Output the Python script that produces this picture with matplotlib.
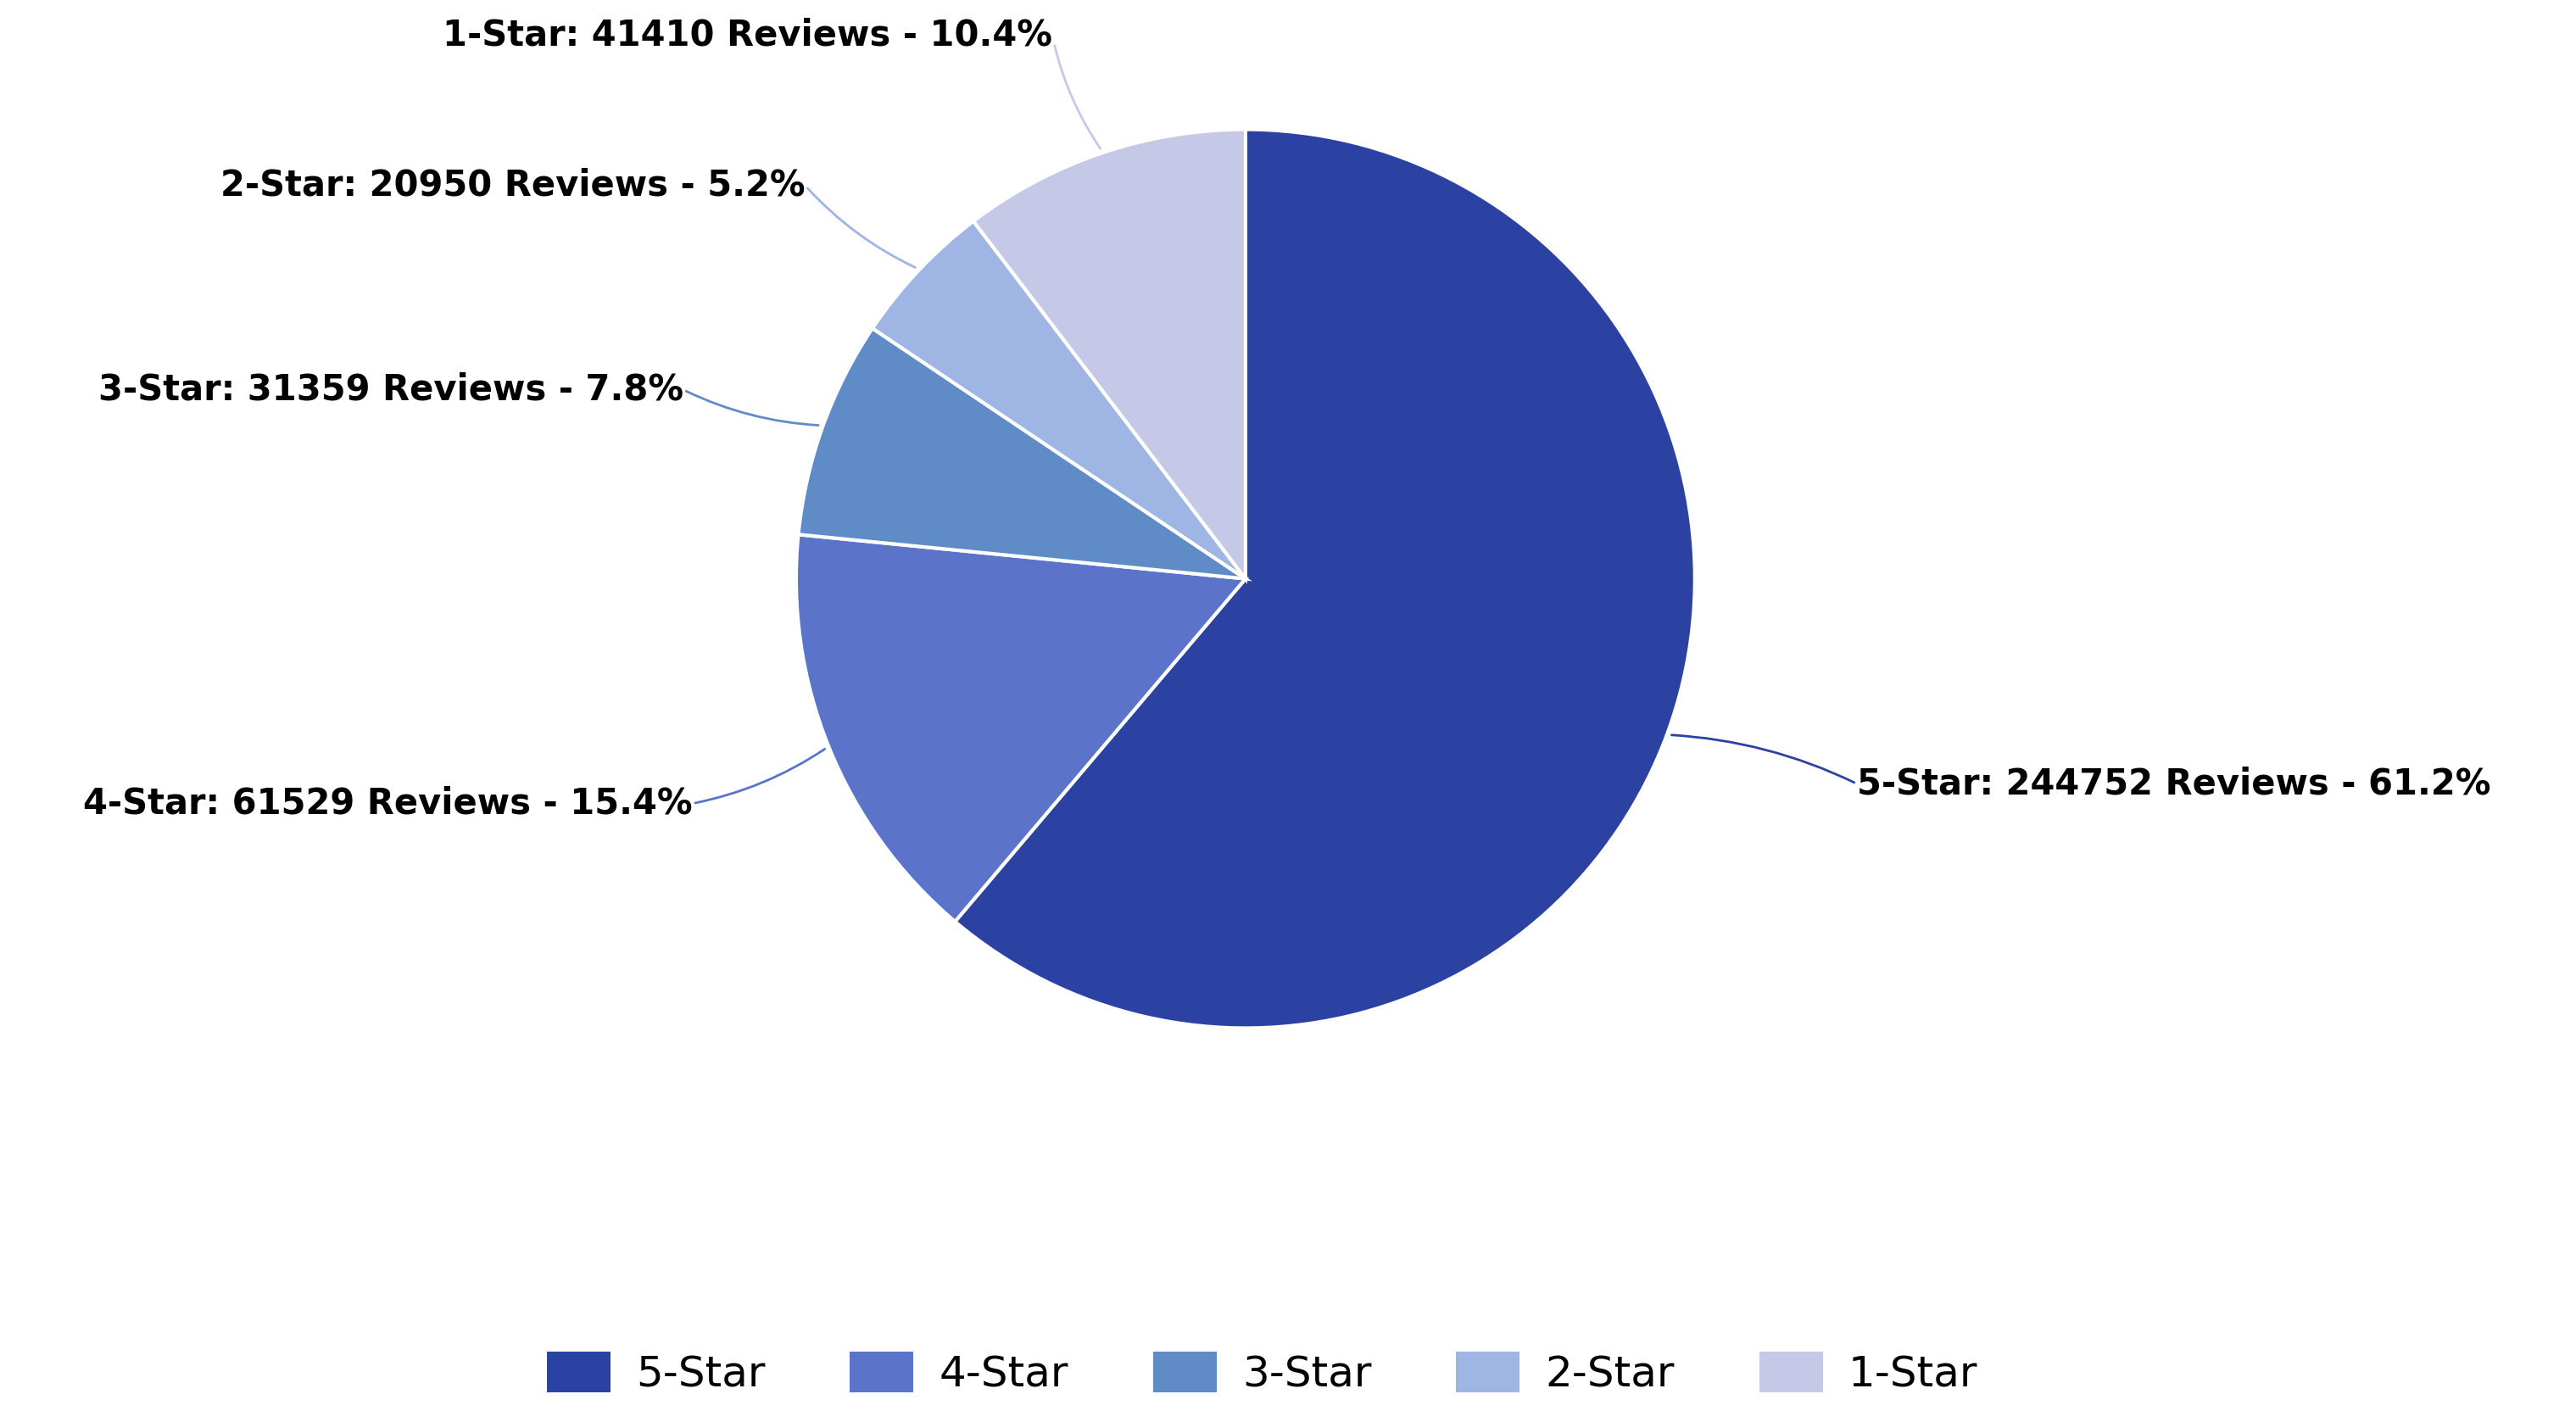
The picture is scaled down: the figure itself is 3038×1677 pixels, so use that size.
import matplotlib.pyplot as plt
import numpy as np
from matplotlib.patches import Patch

labels = ['5-Star', '4-Star', '3-Star', '2-Star', '1-Star']
reviews = [244752, 61529, 31359, 20950, 41410]
percents = ['61.2%', '15.4%', '7.8%', '5.2%', '10.4%']
colors = ['#2c42a2', '#5b73c9', '#5f8cc6', '#9fb5e3', '#c5c8e6']

# label text anchors (radius units)
text_pos = [(1.36, -0.456), (-1.23, -0.50), (-1.25, 0.42), (-0.98, 0.875), (-0.43, 1.21)]

plt.rcParams['font.family'] = ['DejaVu Sans']
fig = plt.figure(figsize=(30.38, 16.77), dpi=100)
ax = fig.add_axes([0.4835 - 0.1745, 0.593 - 0.316, 0.349, 0.632])
wedges, _ = ax.pie(reviews, colors=colors, startangle=90, counterclock=False,
                   radius=1, wedgeprops=dict(edgecolor='white', linewidth=3))
ax.set_xlim(-1, 1)
ax.set_ylim(-1, 1)
ax.set_aspect('equal')

for w, lab, n, p, (tx, ty) in zip(wedges, labels, reviews, percents, text_pos):
    ang = np.deg2rad((w.theta1 + w.theta2) / 2)
    x0, y0 = 1.01 * np.cos(ang), 1.01 * np.sin(ang)
    ha = 'left' if tx > 0 else 'right'
    rel = (0, 0.5) if tx > 0 else (1, 0.5)
    ax.annotate(f'{lab}: {n} Reviews - {p}', xy=(x0, y0), xytext=(tx, ty),
                ha=ha, va='center', fontsize=30, fontweight='bold',
                arrowprops=dict(arrowstyle='-', color=w.get_facecolor(), lw=2,
                                relpos=rel, connectionstyle='arc3,rad=0.1',
                                shrinkA=0, shrinkB=0),
                annotation_clip=False)

handles = [Patch(facecolor=c, edgecolor='none') for c in colors]
fig.legend(handles, labels, loc='lower center', bbox_to_anchor=(0.49, -0.008), ncol=5,
           frameon=False, fontsize=36, handlelength=1.5, handleheight=1.1,
           columnspacing=2.0, handletextpad=0.6)

fig.savefig('out.png', dpi=100, facecolor='white')
